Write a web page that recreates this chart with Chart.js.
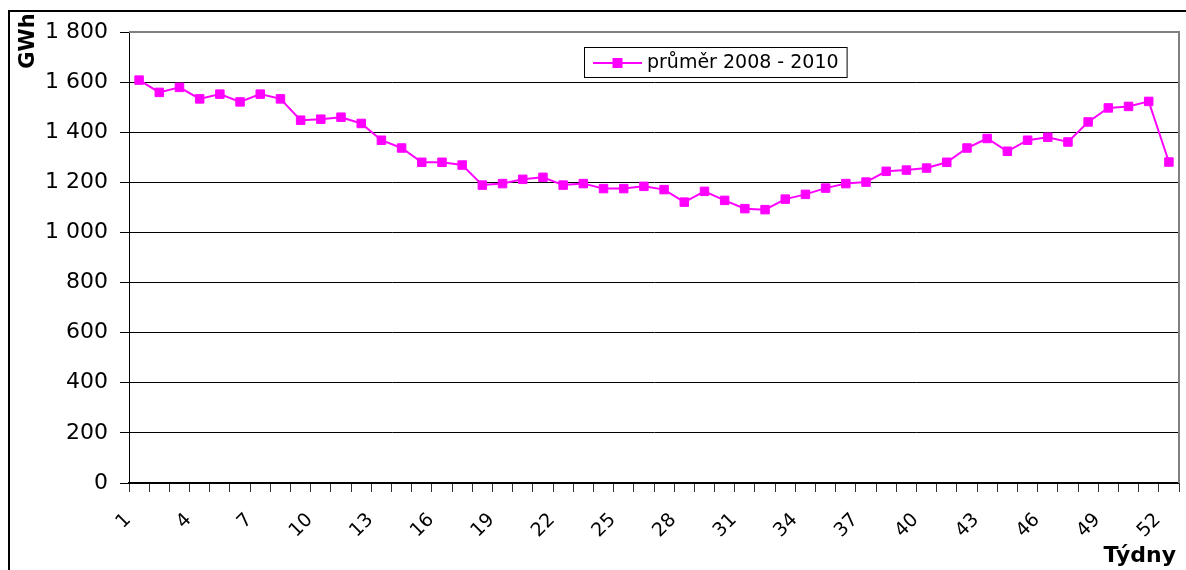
<!DOCTYPE html>
<html><head><meta charset="utf-8">
<script src="https://cdn.jsdelivr.net/npm/chart.js@4/dist/chart.umd.min.js"></script>
<style>
html,body{margin:0;padding:0;background:#fff;overflow:hidden;}
#wrap{position:relative;width:1186px;height:570px;overflow:hidden;}
#frame{position:absolute;left:8px;top:10px;width:1220px;height:620px;border:2px solid #000;box-sizing:border-box;}
canvas{position:absolute;left:0;top:0;}
</style></head><body>
<div id="wrap"><div id="frame"></div><canvas id="c" width="1186" height="570"></canvas></div>
<script>
// ---- data ----
const weeks = [1,2,3,4,5,6,7,8,9,10,11,12,13,14,15,16,17,18,19,20,21,22,23,24,25,26,
               27,28,29,30,31,32,33,34,35,36,37,38,39,40,41,42,43,44,45,46,47,48,49,50,51,52];
const avg2008_2010 = [1608,1559,1579,1533,1552,1521,1552,1533,1448,1452,1460,1435,1368,1337,
                      1280,1280,1269,1189,1195,1212,1220,1189,1195,1175,1175,1184,1171,1121,
                      1164,1128,1095,1091,1133,1152,1177,1195,1201,1244,1249,1257,1280,1337,
                      1375,1324,1368,1380,1361,1441,1497,1503,1523,1281];
const shownWeekLabels = [1,4,7,10,13,16,19,22,25,28,31,34,37,40,43,46,49,52];
const yTickValues = [0,200,400,600,800,1000,1200,1400,1600,1800];
const seriesName = 'průměr 2008 - 2010';
const yAxisTitle = 'GWh';
const xAxisTitle = 'Týdny';

const MAGENTA = '#FF00FF';
const FONT = '"DejaVu Sans", sans-serif';

function fmt(v){
  if (v >= 1000) return Math.floor(v/1000) + ' ' + String(v % 1000).padStart(3,'0');
  return String(v);
}

const decor = {
  id: 'decor',
  beforeDatasetsDraw(chart){
    const {ctx, chartArea:a} = chart;
    ctx.save();
    ctx.strokeStyle = '#808080';
    ctx.lineWidth = 2;
    ctx.beginPath();
    ctx.moveTo(a.left, a.top); ctx.lineTo(a.right, a.top); ctx.lineTo(a.right, a.bottom);
    ctx.stroke();
    ctx.restore();
  },
  afterDraw(chart){
    const {ctx, chartArea:a} = chart;
    ctx.save();
    // legend
    ctx.font = '19px ' + FONT;
    const tw = ctx.measureText(seriesName).width;
    const lx = a.left + 455, ly = a.top + 15, lh = 30;
    const lw = 63 + tw + 8;
    ctx.fillStyle = '#fff';
    ctx.fillRect(lx, ly, lw, lh);
    ctx.strokeStyle = '#000'; ctx.lineWidth = 1;
    ctx.strokeRect(lx + 0.5, ly + 0.5, lw, lh);
    const cy = ly + lh/2 + 1;
    ctx.strokeStyle = MAGENTA; ctx.lineWidth = 2;
    ctx.beginPath(); ctx.moveTo(lx + 9, cy); ctx.lineTo(lx + 58, cy); ctx.stroke();
    ctx.fillStyle = MAGENTA;
    ctx.fillRect(lx + 33.5 - 5, cy - 5, 10, 10);
    ctx.fillStyle = '#000';
    ctx.textBaseline = 'middle'; ctx.textAlign = 'left';
    ctx.fillText(seriesName, lx + 63, cy);
    // y axis title
    ctx.font = 'bold 21px ' + FONT;
    ctx.translate(a.left - 100, a.top + 9);
    ctx.rotate(-Math.PI/2);
    ctx.textAlign = 'center'; ctx.textBaseline = 'middle';
    ctx.fillText(yAxisTitle, 0, 0);
    ctx.restore();
    ctx.save();
    ctx.font = 'bold 22px ' + FONT;
    ctx.fillStyle = '#000';
    ctx.textAlign = 'right'; ctx.textBaseline = 'alphabetic';
    ctx.fillText(xAxisTitle, a.right - 3, chart.height - 8);
    ctx.restore();
  }
};

new Chart(document.getElementById('c'), {
  type: 'line',
  data: {
    labels: weeks.map(String),
    datasets: [{
      label: seriesName,
      data: avg2008_2010,
      borderColor: MAGENTA,
      backgroundColor: MAGENTA,
      borderWidth: 2,
      pointStyle: 'rect',
      pointRadius: 6,
      pointBorderWidth: 1,
      pointBackgroundColor: MAGENTA,
      pointBorderColor: MAGENTA,
      tension: 0,
      fill: false
    }]
  },
  options: {
    responsive: false,
    animation: false,
    devicePixelRatio: 1,
    layout: { padding: { top: 32, right: 6, left: 0, bottom: 0 } },
    plugins: { legend: { display: false }, tooltip: { enabled: false } },
    scales: {
      x: {
        type: 'category',
        offset: true,
        grid: { offset: true, drawOnChartArea: false, drawTicks: true, tickLength: 9, color: '#333', lineWidth: 1 },
        border: { color: '#000', width: 1.5 },
        ticks: {
          autoSkip: false, maxRotation: 45, minRotation: 45,
          padding: 17, labelOffset: -11, color: '#000',
          font: { family: FONT, size: 19 },
          callback: function(val, idx){
            const lab = this.getLabelForValue(val);
            return shownWeekLabels.includes(Number(lab)) ? lab : '';
          }
        },
        afterFit(scale){ scale.height = 87; scale.paddingLeft = 0; scale.paddingRight = 0; }
      },
      y: {
        min: 0, max: 1800,
        afterBuildTicks(scale){ scale.ticks = yTickValues.map(v => ({value: v})); },
        grid: { color: '#000', lineWidth: 1, tickLength: 9, drawTicks: true },
        border: { color: '#000', width: 1 },
        ticks: {
          padding: 12, color: '#000',
          font: { family: FONT, size: 22 },
          callback: v => fmt(v)
        },
        afterFit(scale){ scale.width = 129; scale.paddingTop = 0; scale.paddingBottom = 0; }
      }
    }
  },
  plugins: [decor]
});
</script>
</body></html>
